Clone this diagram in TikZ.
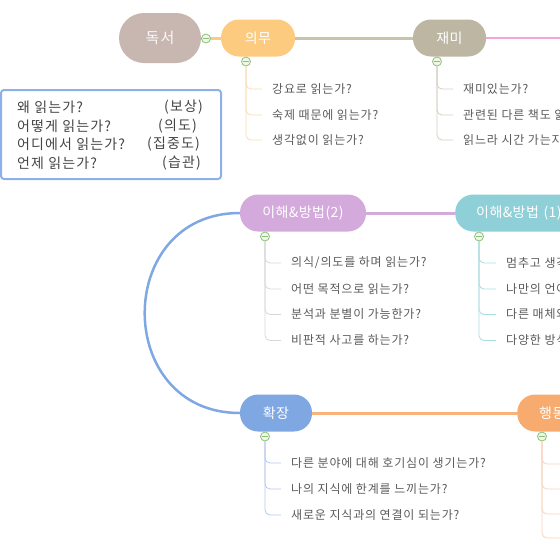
\documentclass[tikz,border=0pt]{standalone}
\usepackage{fontspec}
\setmainfont{Noto Sans CJK KR}
\definecolor{cRoot}{HTML}{C8B6B1}
\definecolor{cDuty}{HTML}{FCCB80}
\definecolor{cFun}{HTML}{BCB6A2}
\definecolor{cFunLine}{HTML}{C9C3AA}
\definecolor{cPink}{HTML}{F2A6D6}
\definecolor{cUtwo}{HTML}{D4AADD}
\definecolor{cUone}{HTML}{8FCFD8}
\definecolor{cExp}{HTML}{7FA7E2}
\definecolor{cAct}{HTML}{F7AB6E}
\definecolor{cActLine}{HTML}{F8B27C}
\definecolor{cTog}{HTML}{8DC07A}
\definecolor{cTogFill}{HTML}{EEF7E9}
\definecolor{cText}{HTML}{5A5A5A}
\definecolor{cQText}{HTML}{444444}
\definecolor{cBox}{HTML}{8DB0EA}
\definecolor{tDuty}{HTML}{F9DDB2}
\definecolor{tFun}{HTML}{D2CEC0}
\definecolor{tUtwo}{HTML}{D8D8D8}
\definecolor{tUone}{HTML}{A9DCE2}
\definecolor{tExp}{HTML}{B6CAEA}
\definecolor{tAct}{HTML}{F9D3BC}
\tikzset{
  topic/.style={rectangle, rounded corners=18pt, minimum height=37pt, inner sep=0pt,
    text=white, font=\fontsize{14}{16}\selectfont\addfontfeature{LetterSpace=3}},
  toggle/.style={circle, draw=cTog, fill=cTogFill, line width=0.8pt, minimum size=9pt, inner sep=0pt,
    path picture={\draw[cTog, line width=0.8pt] ([xshift=-2.6pt]path picture bounding box.center) -- ([xshift=2.6pt]path picture bounding box.center);}},
  leaf/.style={anchor=west, inner xsep=10pt, inner ysep=1pt, text=cText, font=\fontsize{12}{14}\selectfont\addfontfeature{LetterSpace=7}},
  branch/.style={line width=0.8pt, rounded corners=5pt},
  link/.style={line width=3pt},
  qtext/.style={anchor=west, inner sep=0pt, text=cQText, font=\fontsize{14}{16}\selectfont\addfontfeature{LetterSpace=8}},
}
\begin{document}
\begin{tikzpicture}[x=1pt, y=-1pt]
\useasboundingbox (0,0) rectangle (560,560);
\clip (0,0) rectangle (560,560);

% main topics
\node[topic, fill=cRoot, minimum width=82pt, minimum height=50pt, rounded corners=25pt, text=white!92!cRoot, font=\fontsize{15}{17}\selectfont\addfontfeature{LetterSpace=8}] (root) at (160,38) {독서};
\node[topic, fill=cDuty, minimum width=74pt] (duty) at (258,38) {의무};
\node[topic, fill=cFun, minimum width=73pt] (fun) at (449.5,38) {재미};
\node[topic, fill=cUtwo, minimum width=126pt] (utwo) at (303,213) {이해\&방법(2)};
\node[topic, fill=cUone, anchor=west, text width=110pt, inner xsep=21pt, align=left] (uone) at (455,213) {이해\&방법 (1)};
\node[topic, fill=cExp, minimum width=72pt] (exp) at (276,413) {확장};
\node[topic, fill=cAct, anchor=west, text width=80pt, inner xsep=22pt, align=left] (act) at (517,413) {행동};
\coordinate (pinkend) at (575,38);

% links between topics
\draw[link, cDuty] (root) -- (duty);
\draw[link, cFunLine] (duty) -- (fun);
\draw[link, cPink, line width=2.5pt] (fun.east) -- (pinkend);
\draw[link, cUtwo] (uone.west) -- (utwo.east);
\draw[cExp, line width=2.5pt] (utwo.west) .. controls (113,213) and (113,413) .. (exp.west);
\draw[link, cActLine] (exp.east) -- (act.west);

% question box
\draw[cBox, line width=2pt, rounded corners=3pt] (1,90) rectangle (221,179);
\node[qtext] (q1) at (17,107) {왜 읽는가?};
\node[qtext] (q2) at (17,126) {어떻게 읽는가?};
\node[qtext] (q3) at (17,144.5) {어디에서 읽는가?};
\node[qtext] (q4) at (17,163) {언제 읽는가?};
\node[qtext] (r1) at (164,107) {(보상)};
\node[qtext] (r2) at (158,126) {(의도)};
\node[qtext] (r3) at (147,144.5) {(집중도)};
\node[qtext] (r4) at (162,163) {(습관)};

% toggles
\node[toggle] (troot) at (206,38.5) {};
\node[toggle] (tduty) at (246,61.5) {};
\node[toggle] (tfun) at (437,61.5) {};
\node[toggle] (tutwo) at (265,236.5) {};
\node[toggle] (tuone) at (479,236.5) {};
\node[toggle] (texp) at (265,436.5) {};
\node[toggle] (tact) at (542,436.5) {};

% duty leaves
\node[leaf] (d1) at (262,89) {강요로 읽는가?};
\node[leaf] (d2) at (262,115) {숙제 때문에 읽는가?};
\node[leaf] (d3) at (262,140) {생각없이 읽는가?};
\foreach \k in {d1,d2,d3} \draw[branch, tDuty] (tduty.south) |- (\k.west);

% fun leaves
\node[leaf] (f1) at (453,89) {재미있는가?};
\node[leaf] (f2) at (453,115) {관련된 다른 책도 읽고 싶은가?};
\node[leaf] (f3) at (453,140) {읽느라 시간 가는지 모르는가?};
\foreach \k in {f1,f2,f3} \draw[branch, tFun] (tfun.south) |- (\k.west);

% understanding (2) leaves
\node[leaf] (a1) at (281,263) {의식/의도를 하며 읽는가?};
\node[leaf] (a2) at (281,289) {어떤 목적으로 읽는가?};
\node[leaf] (a3) at (281,314.5) {분석과 분별이 가능한가?};
\node[leaf] (a4) at (281,340.5) {비판적 사고를 하는가?};
\foreach \k in {a1,a2,a3,a4} \draw[branch, tUtwo] (tutwo.south) |- (\k.west);

% understanding (1) leaves
\node[leaf] (b1) at (496,263) {멈추고 생각하며 읽는가?};
\node[leaf] (b2) at (496,289) {나만의 언어로 정리하는가?};
\node[leaf] (b3) at (496,314.5) {다른 매체와 비교하는가?};
\node[leaf] (b4) at (496,340.5) {다양한 방식으로 읽는가?};
\foreach \k in {b1,b2,b3,b4} \draw[branch, tUone] (tuone.south) |- (\k.west);

% expansion leaves
\node[leaf] (e1) at (281,463) {다른 분야에 대해 호기심이 생기는가?};
\node[leaf] (e2) at (281,489) {나의 지식에 한계를 느끼는가?};
\node[leaf] (e3) at (281,515) {새로운 지식과의 연결이 되는가?};
\foreach \k in {e1,e2,e3} \draw[branch, tExp] (texp.south) |- (\k.west);

% action branches (leaves off the page)
\coordinate (g1) at (580,464);
\coordinate (g2) at (580,489);
\coordinate (g3) at (580,514);
\coordinate (g4) at (580,538);
\foreach \k in {g1,g2,g3,g4} \draw[branch, tAct] (tact.south) |- (\k);
\end{tikzpicture}
\end{document}
